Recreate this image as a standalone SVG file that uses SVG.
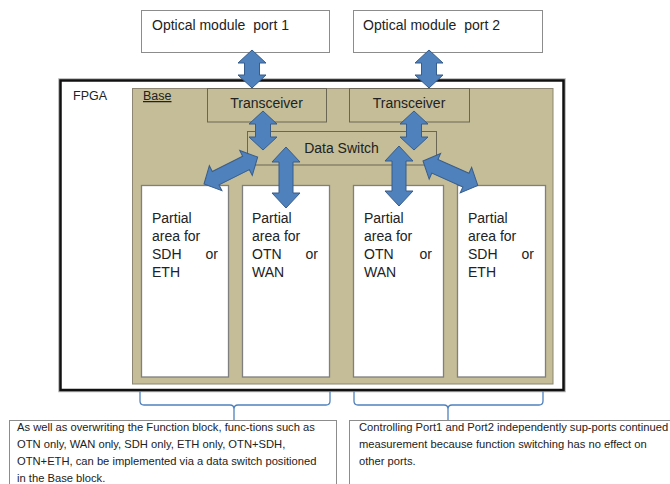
<svg xmlns="http://www.w3.org/2000/svg" width="670" height="484" viewBox="0 0 670 484">
  <style>
    text { font-family: "Liberation Sans", Arial, sans-serif; fill: #222; }
    .port { fill: #fff; stroke: #8c8c8c; stroke-width: 1; }
    .base { fill: #c4bd97; stroke: #8c8672; stroke-width: 1; }
    .blk { fill: #c4bd97; stroke: #6b6654; stroke-width: 1; }
    .part { fill: #fff; stroke: #7f7f7f; stroke-width: 1.3; }
    .note { fill: #fff; stroke: #8c8c8c; stroke-width: 1; }
    .lbl14 { font-size: 14px; }
    .lbl { font-size: 14px; }
    .note-t { font-size: 11.2px; }
    .arrow { fill: #4f81bd; stroke: #385d8a; stroke-width: 1; stroke-linejoin: miter; }
    .brace { fill: none; stroke: #4f81bd; stroke-width: 1.3; }
  </style>
  <defs>
    <!-- double-headed block arrow along +x, 60px long -->
    <path id="dbl60" d="M0,0 L13,-14 L13,-7.5 L47,-7.5 L47,-14 L60,0 L47,14 L47,7.5 L13,7.5 L13,14 Z"/>
  </defs>

  <rect width="670" height="484" fill="#fff"/>

  <!-- optical modules -->
  <g id="port1">
    <rect class="port" x="141.5" y="10.5" width="188" height="42"/>
    <text class="lbl14" x="152" y="30" font-size="14.3" xml:space="preserve">Optical module  port 1</text>
  </g>
  <g id="port2">
    <rect class="port" x="353.5" y="10.5" width="189" height="42"/>
    <text class="lbl14" x="363" y="30" font-size="14.3" xml:space="preserve">Optical module  port 2</text>
  </g>

  <!-- FPGA frame -->
  <g id="fpga">
    <rect x="60.5" y="80.5" width="503" height="309.5" fill="none" stroke="#b0b0b0" stroke-width="4.5"/>
    <rect x="60.5" y="80.5" width="503" height="309.5" fill="#fff" stroke="#111" stroke-width="2.5"/>
    <text x="73" y="99.5" font-size="12.5">FPGA</text>
  </g>

  <!-- Base block -->
  <g id="base">
    <rect class="base" x="132.5" y="88.5" width="420.5" height="295.5"/>
    <text x="143" y="100" font-size="12.5" text-decoration="underline">Base</text>
  </g>

  <g id="transceiver1">
    <rect class="blk" x="207.5" y="88.5" width="119" height="33.5"/>
    <text class="lbl" x="266.5" y="108" text-anchor="middle">Transceiver</text>
  </g>
  <g id="transceiver2">
    <rect class="blk" x="349.5" y="88.5" width="120" height="33.5"/>
    <text class="lbl" x="409" y="108" text-anchor="middle">Transceiver</text>
  </g>

  <g id="data-switch">
    <rect class="blk" x="247.5" y="131.5" width="189" height="33.5"/>
    <text class="lbl" x="341.5" y="152.5" text-anchor="middle" font-size="13.5">Data Switch</text>
  </g>

  <!-- partial reconfiguration areas -->
  <g id="area1">
    <rect class="part" x="141.5" y="185.5" width="87" height="191.5"/>
    <text class="lbl" x="152" y="222.5">Partial</text>
    <text class="lbl" x="152" y="240.8">area for</text>
    <text class="lbl" x="152" y="259">SDH</text>
    <text class="lbl" x="218" y="259" text-anchor="end">or</text>
    <text class="lbl" x="152" y="277.3">ETH</text>
  </g>
  <g id="area2">
    <rect class="part" x="242.5" y="185.5" width="87" height="191.5"/>
    <text class="lbl" x="252" y="222.5">Partial</text>
    <text class="lbl" x="252" y="240.8">area for</text>
    <text class="lbl" x="252" y="259">OTN</text>
    <text class="lbl" x="318" y="259" text-anchor="end">or</text>
    <text class="lbl" x="252" y="277.3">WAN</text>
  </g>
  <g id="area3">
    <rect class="part" x="353.5" y="185.5" width="90" height="191.5"/>
    <text class="lbl" x="364" y="222.5">Partial</text>
    <text class="lbl" x="364" y="240.8">area for</text>
    <text class="lbl" x="364" y="259">OTN</text>
    <text class="lbl" x="432" y="259" text-anchor="end">or</text>
    <text class="lbl" x="364" y="277.3">WAN</text>
  </g>
  <g id="area4">
    <rect class="part" x="457.5" y="185.5" width="88" height="191.5"/>
    <text class="lbl" x="468" y="222.5">Partial</text>
    <text class="lbl" x="468" y="240.8">area for</text>
    <text class="lbl" x="468" y="259">SDH</text>
    <text class="lbl" x="534" y="259" text-anchor="end">or</text>
    <text class="lbl" x="468" y="277.3">ETH</text>
  </g>

  <!-- explanatory notes -->
  <g id="note-left">
    <rect class="note" x="9.5" y="420.5" width="327" height="70"/>
    <text class="note-t" x="17" y="431">As well as overwriting the Function block, func-tions such as</text>
    <text class="note-t" x="17" y="448">OTN only, WAN only, SDH only, ETH only, OTN+SDH,</text>
    <text class="note-t" x="17" y="465">OTN+ETH, can be implemented via a data switch positioned</text>
    <text class="note-t" x="17" y="481.5">in the Base block.</text>
  </g>
  <g id="note-right">
    <rect class="note" x="349.5" y="420.5" width="330" height="70"/>
    <text class="note-t" x="359" y="431">Controlling Port1 and Port2 independently sup-ports continued</text>
    <text class="note-t" x="359" y="448">measurement because function switching has no effect on</text>
    <text class="note-t" x="359" y="465">other ports.</text>
  </g>

  <!-- connectors -->
  <g id="connectors">
    <path class="arrow" d="M252,50 L266,63 L259.5,63 L259.5,75 L266,75 L252,88 L238,75 L244.5,75 L244.5,63 L238,63 Z"/>
    <path class="arrow" d="M429,50 L443,63 L436.5,63 L436.5,75 L443,75 L429,88 L415,75 L421.5,75 L421.5,63 L415,63 Z"/>
    <path class="arrow" d="M263,111 L277,124 L270.5,124 L270.5,137 L277,137 L263,150 L249,137 L255.5,137 L255.5,124 L249,124 Z"/>
    <path class="arrow" d="M414,111 L428,124 L421.5,124 L421.5,137 L428,137 L414,150 L400,137 L406.5,137 L406.5,124 L400,124 Z"/>
    <path class="arrow" d="M286,147 L300,162 L293,162 L293,193 L300,193 L286,208 L272,193 L279,193 L279,162 L272,162 Z"/>
    <path class="arrow" d="M399,146 L413,161 L406,161 L406,191 L413,191 L399,206 L385,191 L392,191 L392,161 L385,161 Z"/>
    <use href="#dbl60" class="arrow" transform="translate(204,184) rotate(-26.6)"/>
    <use href="#dbl60" class="arrow" transform="translate(423,161) rotate(24)"/>
    <!-- braces tying the notes to the areas -->
    <path class="brace" d="M140,391 L140,401 Q140,405 144,405 L230,405 Q234,405 234,409 L234,420 M234,409 Q234,405 238,405 L326,405 Q330,405 330,401 L330,391"/>
    <path class="brace" d="M354,391 L354,401 Q354,405 358,405 L444,405 Q448,405 448,409 L448,420 M448,409 Q448,405 452,405 L539,405 Q543,405 543,401 L543,391"/>
  </g>
</svg>
